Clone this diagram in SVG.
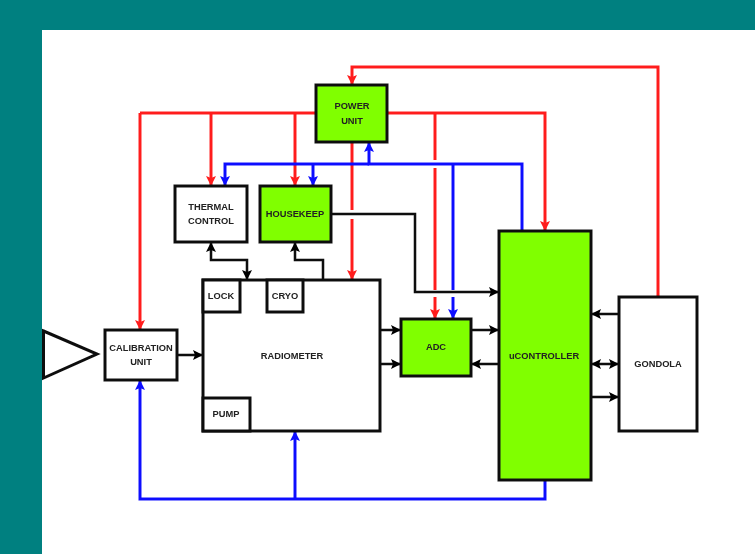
<svg xmlns="http://www.w3.org/2000/svg" width="755" height="554" viewBox="0 0 755 554">
<defs>
<filter id="soft" x="-2%" y="-2%" width="104%" height="104%"><feGaussianBlur stdDeviation="0.7"/></filter>
<marker id="ar" markerUnits="userSpaceOnUse" markerWidth="10" markerHeight="10" viewBox="0 0 10 10" refX="10" refY="5" orient="auto-start-reverse"><path d="M0 0L10 5L0 10L2 5Z" fill="#ff1e1e"/></marker>
<marker id="ab" markerUnits="userSpaceOnUse" markerWidth="10" markerHeight="10" viewBox="0 0 10 10" refX="10" refY="5" orient="auto-start-reverse"><path d="M0 0L10 5L0 10L2 5Z" fill="#0f0fff"/></marker>
<marker id="ak" markerUnits="userSpaceOnUse" markerWidth="10" markerHeight="10" viewBox="0 0 10 10" refX="10" refY="5" orient="auto-start-reverse"><path d="M0 0L10 5L0 10L2 5Z" fill="#000"/></marker>
</defs>
<style>
.n{stroke:#111;stroke-width:3;fill:#fff}
.g{fill:#80ff00}
.t{font-family:"Liberation Sans",Arial,sans-serif;font-weight:bold;font-size:9.3px;fill:#222;text-anchor:middle}
.r,.b,.k{fill:none;stroke-width:3}
.r{stroke:#ff1e1e;marker-end:url(#ar)}
.b{stroke:#0f0fff;marker-end:url(#ab)}
.k{stroke:#111;stroke-width:2.5;marker-end:url(#ak)}
.x{marker-end:none}
</style>
<rect width="755" height="554" fill="#fff"/>
<path d="M0 0H755V30H42V554H0Z" fill="#008080"/>
<g filter="url(#soft)">
<g id="connectors">
<path class="r" d="M658 297V67H352V85"/>
<path class="r x" d="M316 113H140"/>
<path class="r" d="M140 113V330"/>
<path class="r" d="M211 113V186"/>
<path class="r" d="M295 113V186"/>
<path class="r" d="M387 113H545V231"/>
<path class="r x" d="M435 113V160"/>
<path class="r x" d="M435 168V290"/>
<path class="r" d="M435 297V319"/>
<path class="r x" d="M352 142V210"/>
<path class="r" d="M352 219V280"/>
<path class="b" d="M522 231V164H369V142"/>
<path class="b" d="M369 164H225V186"/>
<path class="b" d="M313 164V186"/>
<path class="b x" d="M453 164V290"/>
<path class="b" d="M453 297V319"/>
<path class="b" d="M545 480V499H140V380"/>
<path class="b" d="M295 499V431"/>
<path class="k" d="M331 214H415V292H499"/>
<path class="k" d="M177 355H203"/>
<path class="k" d="M380 330H401"/>
<path class="k" d="M380 364H401"/>
<path class="k" d="M471 330H499"/>
<path class="k" d="M499 364H471"/>
<path class="k" d="M619 314H591"/>
<path class="k" style="marker-start:url(#ak)" d="M591 364H619"/>
<path class="k" d="M591 397H619"/>
<path class="k" style="marker-start:url(#ak)" d="M211 242V260H247V280"/>
<path class="k" d="M323 280V260H295V242"/>
</g>
<g id="power"><rect class="n g" x="316" y="85" width="71" height="57"/><text class="t" x="352" y="109">POWER</text><text class="t" x="352" y="124">UNIT</text></g>
<g id="thermal"><rect class="n" x="175" y="186" width="72" height="56"/><text class="t" x="211" y="210">THERMAL</text><text class="t" x="211" y="224">CONTROL</text></g>
<g id="housekeep"><rect class="n g" x="260" y="186" width="71" height="56"/><text class="t" x="295" y="217">HOUSEKEEP</text></g>
<g id="radiometer"><rect class="n" x="203" y="280" width="177" height="151"/><text class="t" x="292" y="359">RADIOMETER</text></g>
<g id="lock"><rect class="n" x="203" y="280" width="37" height="32"/><text class="t" x="221" y="299">LOCK</text></g>
<g id="cryo"><rect class="n" x="267" y="280" width="36" height="32"/><text class="t" x="285" y="299">CRYO</text></g>
<g id="pump"><rect class="n" x="203" y="398" width="47" height="33"/><text class="t" x="226" y="417">PUMP</text></g>
<g id="calibration"><rect class="n" x="105" y="330" width="72" height="50"/><text class="t" x="141" y="351">CALIBRATION</text><text class="t" x="141" y="365">UNIT</text></g>
<g id="antenna"><path d="M43.500 331L97 354L43.500 378Z" fill="#fff" stroke="#111" stroke-width="3"/></g>
<g id="adc"><rect class="n g" x="401" y="319" width="70" height="57"/><text class="t" x="436" y="350">ADC</text></g>
<g id="controller"><rect class="n g" x="499" y="231" width="92" height="249"/><text class="t" x="544" y="359">uCONTROLLER</text></g>
<g id="gondola"><rect class="n" x="619" y="297" width="78" height="134"/><text class="t" x="658" y="367">GONDOLA</text></g>
</g>
</svg>
